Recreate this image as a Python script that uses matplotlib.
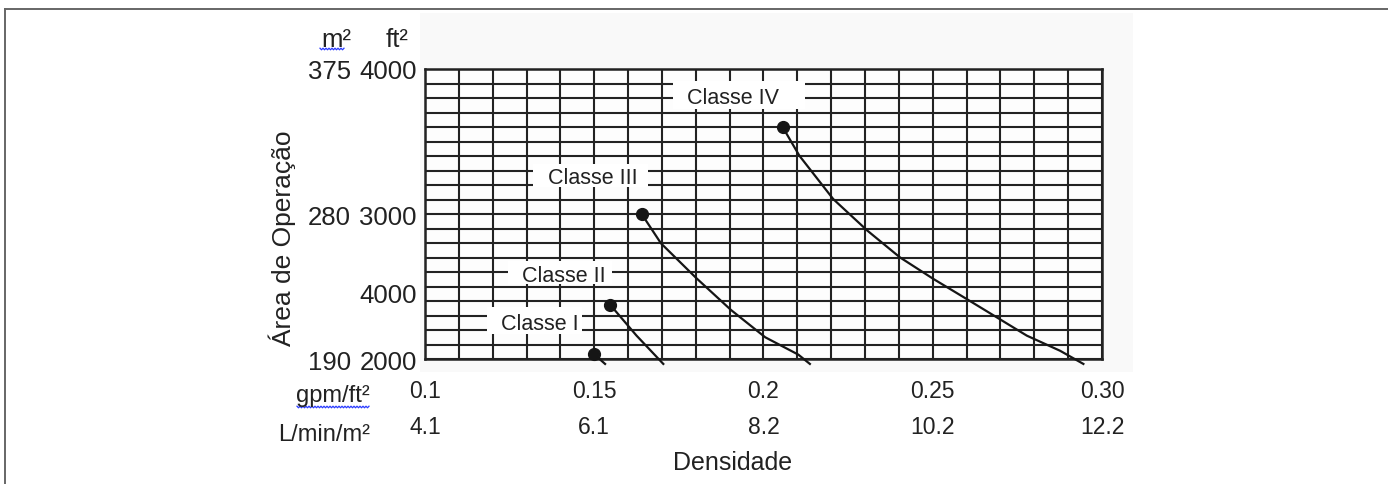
import numpy as np
import matplotlib.pyplot as plt
from matplotlib.patches import Rectangle
from matplotlib.lines import Line2D
from matplotlib.transforms import blended_transform_factory as blend

plt.rcParams['font.family'] = ['Liberation Sans', 'DejaVu Sans']

W, H = 1388, 485

# density axis: gpm/ft2 row and L/min/m2 row
x_ticks = [0.10, 0.15, 0.20, 0.25, 0.30]
x_labels_gpm = ['0.1', '0.15', '0.2', '0.25', '0.30']
x_labels_lpm = ['4.1', '6.1', '8.2', '10.2', '12.2']

# area axis: ft2 column and m2 column (labels as printed in the source)
y_ticks_ft2 = [4000, 3000, 2460, 2000]
y_labels_ft2 = ['4000', '3000', '4000', '2000']
y_ticks_m2 = [4000, 3000, 2000]
y_labels_m2 = ['375', '280', '190']

# design curves (first point = dot)
classe_1_x = [0.1499, 0.1532]
classe_1_y = [2034, 1966]
classe_2_x = [0.1547, 0.1625, 0.1704]
classe_2_y = [2374, 2161, 1966]
classe_3_x = [0.1640, 0.1697, 0.1801, 0.1904, 0.2005, 0.2103, 0.2137]
classe_3_y = [3000, 2798, 2559, 2338, 2150, 2030, 1966]
classe_4_x = [0.2057, 0.2106, 0.2206, 0.2307, 0.2403, 0.2502, 0.2600,
              0.2778, 0.2876, 0.2945]
classe_4_y = [3598, 3402, 3103, 2885, 2701, 2552, 2414, 2161, 2057, 1966]

curves = [(classe_1_x, classe_1_y), (classe_2_x, classe_2_y),
          (classe_3_x, classe_3_y), (classe_4_x, classe_4_y)]

class_names = ['Classe I', 'Classe II', 'Classe III', 'Classe IV']


def fx(px):
    return px / W


def fy(py):
    return 1 - py / H


fig = plt.figure(figsize=(W / 100, H / 100), dpi=100)
fig.patch.set_facecolor('white')

# light backdrop of the pasted chart image
fig.patches.append(Rectangle((fx(420), fy(373)), fx(1133) - fx(420),
                             fy(14) - fy(373), transform=fig.transFigure,
                             facecolor='#f9f9f9', edgecolor='none', zorder=-5))

ax = fig.add_axes([fx(425), fy(360), fx(1102) - fx(425), fy(70) - fy(360)])
ax.set_facecolor('#fdfdfd')
ax.set_xlim(0.10, 0.30)
ax.set_ylim(2000, 4000)

grid_col = '#222222'
ax.vlines(np.arange(0.10, 0.3001, 0.01), 2000, 4000, color=grid_col, lw=1.5, zorder=1)
ax.hlines(np.arange(2000, 4001, 100), 0.10, 0.30, color=grid_col, lw=1.5, zorder=1)
for s in ax.spines.values():
    s.set_linewidth(1.8)
    s.set_color(grid_col)

for cx, cy in curves:
    ax.plot(cx, cy, color='#151515', lw=1.6, clip_on=False, zorder=4)
    ax.plot(cx[0], cy[0], 'o', color='#151515', ms=8.5, clip_on=False, zorder=5)

# y labels: ft2 column via ticks, m2 column as text
ax.set_xticks([])
ax.set_yticks(y_ticks_ft2, y_labels_ft2)
ax.tick_params(axis='y', length=0, pad=6, labelsize=18.5, colors='#222222')
for lab in ax.get_yticklabels():
    lab.set_va('center_baseline')
ty = blend(fig.transFigure, ax.transData)
for v, lab in zip(y_ticks_m2, y_labels_m2):
    ax.text(fx(351), v, lab, transform=ty, ha='right', va='center_baseline',
            fontsize=18.5, color='#222222')

fig.text(fx(351), fy(47), 'm²', ha='right', va='baseline', fontsize=18.5, color='#222222')
fig.text(fx(408), fy(47), 'ft²', ha='right', va='baseline', fontsize=18.5, color='#222222')

# x labels: two rows
tx = blend(ax.transData, fig.transFigure)
for v, a, b in zip(x_ticks, x_labels_gpm, x_labels_lpm):
    ax.text(v, fy(398), a, transform=tx, ha='center', va='baseline',
            fontsize=16.5, color='#222222')
    ax.text(v, fy(434), b, transform=tx, ha='center', va='baseline',
            fontsize=16.5, color='#222222')
fig.text(fx(370), fy(402), 'gpm/ft²', ha='right', va='baseline', fontsize=17, color='#222222')
fig.text(fx(370), fy(441), 'L/min/m²', ha='right', va='baseline', fontsize=17, color='#222222')

fig.text(fx(733), fy(470), 'Densidade', ha='center', va='baseline', fontsize=18, color='#222222')
fig.text(fx(282), fy(238), 'Área de Operação', ha='center', va='center',
         rotation=90, fontsize=19, color='#222222')

# class labels on white patches over the grid
boxes = [(487, 582, 308, 335, 540, 330),
         (508, 612, 262, 285, 564, 282),
         (533, 648, 165, 188, 593, 184),
         (673, 805, 82, 110, 733, 104)]
for name, (x0, x1, y0, y1, xt, yb) in zip(class_names, boxes):
    fig.patches.append(Rectangle((fx(x0), fy(y1)), fx(x1) - fx(x0), fy(y0) - fy(y1),
                                 transform=fig.transFigure, facecolor='white',
                                 edgecolor='none', zorder=2))
    fig.text(fx(xt), fy(yb), name, ha='center', va='baseline', fontsize=15.5,
             color='#222222', zorder=3)

# spell-check squiggles from the source document
for x0, x1, yy in [(320, 344, 50), (297, 370, 408)]:
    xs = np.arange(x0, x1 + 0.1, 1.5)
    ys = yy + np.where(np.arange(len(xs)) % 2 == 0, -0.8, 0.8)
    fig.lines.append(Line2D(fx(xs), fy(ys), transform=fig.transFigure,
                            color='#2a3cff', lw=0.9))

# page frame (top and left edge)
fig.lines.append(Line2D([fx(5), 1], [fy(10), fy(10)], transform=fig.transFigure,
                        color='#666666', lw=1.4))
fig.lines.append(Line2D([fx(5), fx(5)], [0, fy(10)], transform=fig.transFigure,
                        color='#666666', lw=1.4))

fig.savefig('out.png', dpi=100)
